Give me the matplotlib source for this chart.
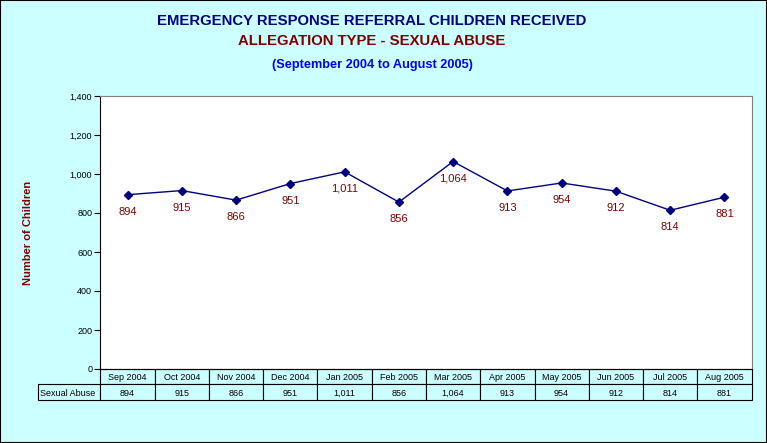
import matplotlib.pyplot as plt
import matplotlib.ticker as ticker
from matplotlib.patches import Rectangle
from matplotlib.table import Table

# Data
months = ["Sep 2004", "Oct 2004", "Nov 2004", "Dec 2004", "Jan 2005", "Feb 2005",
          "Mar 2005", "Apr 2005", "May 2005", "Jun 2005", "Jul 2005", "Aug 2005"]
sexual_abuse = [894, 915, 866, 951, 1011, 856, 1064, 913, 954, 912, 814, 881]
series_name = "Sexual Abuse"

bg = "#CCFFFF"
navy = "#000080"
darkred = "#800000"

plt.rcParams["font.family"] = ["Liberation Sans", "DejaVu Sans"]

fig = plt.figure(figsize=(7.67, 4.43), dpi=100, facecolor=bg)
fig.patches.append(Rectangle((0, 0), 1, 1, transform=fig.transFigure, fill=False,
                             edgecolor="black", linewidth=1.5))

W, H = 767.0, 443.0
left, right, top, bottom = 100.5, 751.5, 96, 369
ax = fig.add_axes([left / W, (H - bottom) / H, (right - left) / W, (bottom - top) / H])
ax.set_facecolor("white")

x = [i + 0.5 for i in range(len(months))]
ax.plot(x, sexual_abuse, color=navy, linewidth=1, marker="D", markersize=3.8)
for xi, v in zip(x, sexual_abuse):
    ax.annotate(f"{v:,}", (xi, v), xytext=(0, -11.5), textcoords="offset points",
                ha="center", va="center_baseline", fontsize=8, color=darkred)

ax.set_xlim(0, len(months))
ax.set_ylim(0, 1400)
ax.yaxis.set_major_locator(ticker.MultipleLocator(200))
ax.yaxis.set_major_formatter(ticker.FuncFormatter(lambda v, p: f"{int(v):,}"))
ax.tick_params(axis="y", labelsize=6.5, length=4, width=0.8, pad=2)
ax.set_xticks([])
for s in ["top", "right"]:
    ax.spines[s].set_color("#808080")
for s in ["left", "bottom"]:
    ax.spines[s].set_color("black")
ax.set_ylabel("Number of Children", fontsize=8, fontweight="bold", color=darkred, labelpad=0)
ax.yaxis.set_label_coords(-(left - 33) / (right - left), 0.5)

# Data table under the axis
axw = right - left
axh = bottom - top
rlw = (left - 38) / axw
cw = 1 / len(months)
tab = Table(ax, bbox=[0, -31 / axh, 1, 31 / axh])
for i, m in enumerate(months):
    tab.add_cell(0, i, width=cw, height=15, text=m, loc="center", facecolor=bg)
    tab.add_cell(1, i, width=cw, height=16, text=f"{sexual_abuse[i]:,}", loc="center", facecolor=bg)
tab.add_cell(1, -1, width=rlw, height=16, text=series_name, loc="left", facecolor=bg)
tab.auto_set_font_size(False)
tab.set_fontsize(6.5)
for (r, c), cell in tab.get_celld().items():
    cell.set_edgecolor("black")
    cell.set_linewidth(0.8)
    cell.PAD = 0.04
    cell.get_text().set_va("center_baseline")
ax.add_table(tab)

# Titles
fig.text(0.485, 1 - 21 / H, "EMERGENCY RESPONSE REFERRAL CHILDREN RECEIVED", ha="center", va="center",
         fontsize=10.7, fontweight="bold", color=navy)
fig.text(0.485, 1 - 41 / H, "ALLEGATION TYPE - SEXUAL ABUSE", ha="center", va="center",
         fontsize=10.7, fontweight="bold", color=darkred)
fig.text(0.485, 1 - 65 / H, "(September 2004 to August 2005)", ha="center", va="center",
         fontsize=9.2, fontweight="bold", color="#0000FF")

fig.savefig("out.png", dpi=100, facecolor=bg)
